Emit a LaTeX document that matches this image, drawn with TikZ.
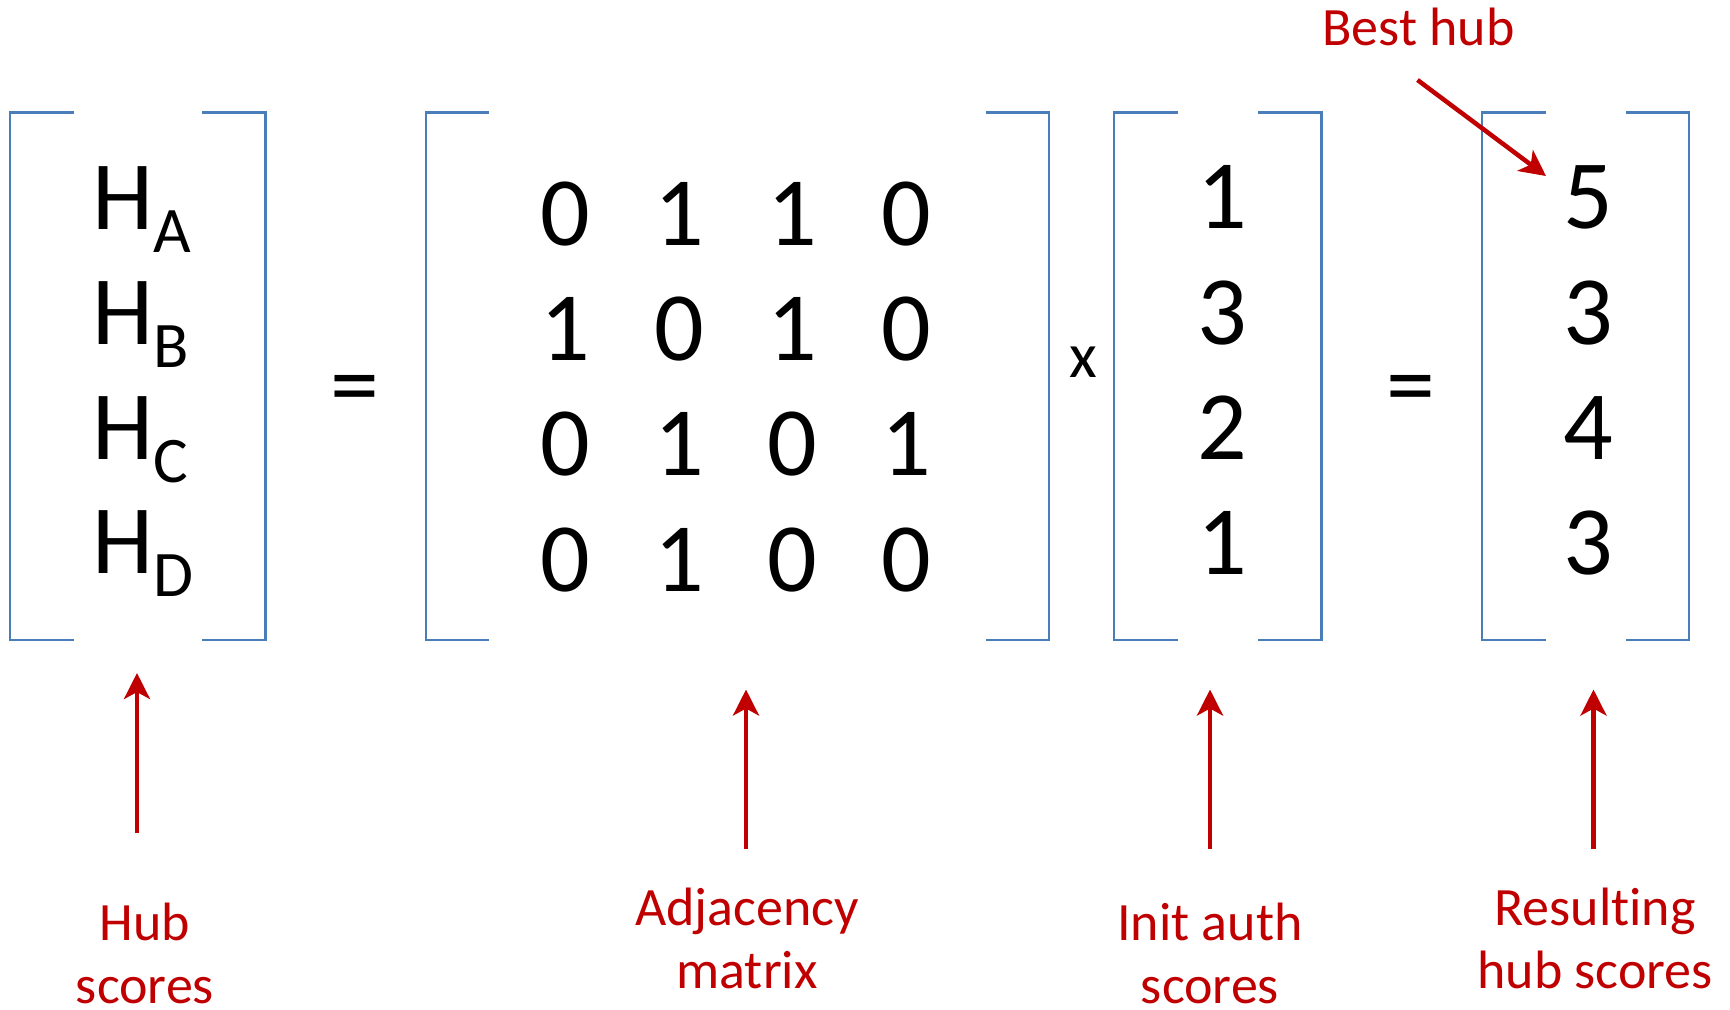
\documentclass[tikz,border=0pt]{standalone}
\usepackage{fontspec}
\setmainfont{Carlito}[Ligatures=NoCommon]
\usetikzlibrary{arrows.meta}
\definecolor{bracketblue}{HTML}{4A7EBB}
\definecolor{notered}{HTML}{C00000}
\newcommand{\subscrfont}{\fontsize{32.5}{39}\selectfont}

\begin{document}
\begin{tikzpicture}[x=0.5pt,y=-0.5pt,
  bracket/.style={draw=bracketblue,line width=1.1pt},
  entry/.style={inner sep=0pt,anchor=base,font=\fontsize{49}{58}\selectfont},
  opsign/.style={inner sep=0pt,anchor=center},
  note/.style={inner sep=0pt,anchor=base,align=center,text=notered,font=\fontsize{27}{31.5}\selectfont},
  pointer/.style={draw=notered,line width=2.25pt,-{Stealth[length=13pt,width=13pt,inset=3.5pt]}}]

\useasboundingbox (0,0) rectangle (1730,1009);

% ---- brackets ----
% hub score vector
\draw[bracket] (73.5,112.5) -| (10,640) -- (73.5,640);
\draw[bracket] (202,112.5) -| (265.5,640) -- (202,640);
% adjacency matrix
\draw[bracket] (489,112.5) -| (426,640) -- (489,640);
\draw[bracket] (985.5,112.5) -| (1049,640) -- (985.5,640);
% initial authority vector
\draw[bracket] (1178,112.5) -| (1114,640) -- (1178,640);
\draw[bracket] (1258,112.5) -| (1321.5,640) -- (1258,640);
% resulting hub vector
\draw[bracket] (1546,112.5) -| (1482,640) -- (1546,640);
\draw[bracket] (1626,112.5) -| (1689,640) -- (1626,640);

% ---- hub score symbols ----
\node[entry,anchor=base west] (hA) at (92,229) {H\raisebox{-11.6pt}{\subscrfont A}};
\node[entry,anchor=base west] (hB) at (92,344) {H\raisebox{-11.6pt}{\subscrfont B}};
\node[entry,anchor=base west] (hC) at (92,459) {H\raisebox{-11.6pt}{\subscrfont C}};
\node[entry,anchor=base west] (hD) at (92,573.5) {H\raisebox{-11.6pt}{\subscrfont D}};

% ---- operators ----
\node[opsign,font=\fontsize{49}{58}\selectfont] (eq1) at (354.5,396) {=};
\node[opsign,font=\fontsize{32}{38}\selectfont] (times) at (1083.5,362) {x};
\node[opsign,font=\fontsize{49}{58}\selectfont] (eq2) at (1410.5,396) {=};

% ---- adjacency matrix entries ----
\foreach \r/\yy/\a/\b/\c/\d in {1/245/0/1/1/0, 2/360/1/0/1/0, 3/475.5/0/1/0/1, 4/591/0/1/0/0}{
  \node[entry] (m\r-1) at (565.5,\yy) {\a};
  \node[entry] (m\r-2) at (679,\yy) {\b};
  \node[entry] (m\r-3) at (792,\yy) {\c};
  \node[entry] (m\r-4) at (906,\yy) {\d};
}

% ---- authority and result vectors ----
\foreach \r/\yy/\a/\h in {1/228.5/1/5, 2/344/3/3, 3/459/2/4, 4/574/1/3}{
  \node[entry] (auth\r) at (1222.5,\yy) {\a};
  \node[entry] (res\r) at (1588.5,\yy) {\h};
}

% ---- captions (anchored at the baseline of their last line) ----
\node[note] (hubnote) at (145,1003) {Hub\\scores};
\node[note] (adjnote) at (747,988) {Adjacency\\matrix};
\node[note] (authnote) at (1210,1003) {Init auth\\scores};
\node[note] (resnote) at (1595,988) {Resulting\\hub scores};
\node[note] (bestnote) at (1418.5,45) {Best hub};

% ---- pointers ----
\coordinate (hubTail) at (137,833);
\coordinate (hubTip) at (137,673);
\coordinate (adjTail) at (746,849);
\coordinate (adjTip) at (746,689.5);
\coordinate (authTail) at (1210,849);
\coordinate (authTip) at (1210,689.5);
\coordinate (resTail) at (1593.5,849);
\coordinate (resTip) at (1593.5,689.5);
\coordinate (bestTail) at (1417.5,80);
\coordinate (bestTip) at (1546,176);

\draw[pointer] (hubTail) -- (hubTip);
\draw[pointer] (adjTail) -- (adjTip);
\draw[pointer] (authTail) -- (authTip);
\draw[pointer] (resTail) -- (resTip);
\draw[pointer] (bestTail) -- (bestTip);
\end{tikzpicture}
\end{document}
